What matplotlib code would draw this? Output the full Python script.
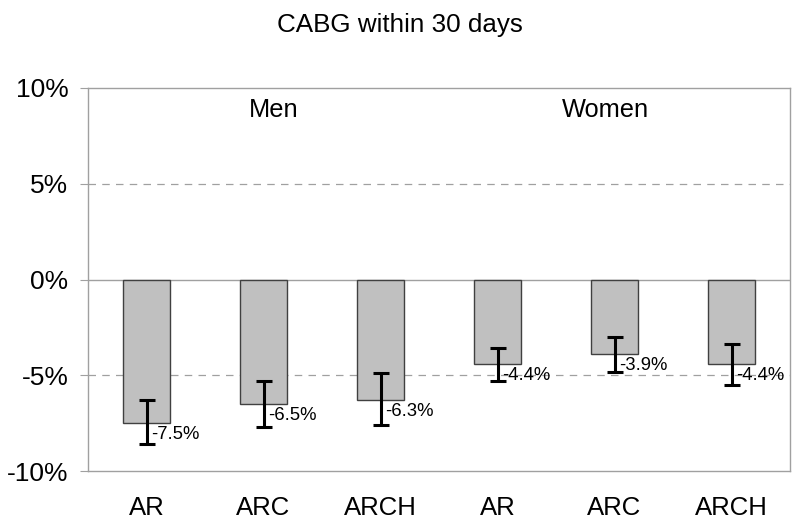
import numpy as np
import matplotlib.pyplot as plt
from matplotlib.ticker import FuncFormatter

plt.rcParams['font.family'] = ['Liberation Sans', 'DejaVu Sans']

# Werte (Prozentpunkte)
kategorien = ['AR', 'ARC', 'ARCH', 'AR', 'ARC', 'ARCH']
gruppen = ['Men', 'Women']
gruppen_pos = [1.09, 3.92]
werte = [-7.5, -6.5, -6.3, -4.4, -3.9, -4.4]
fehler_oben = [-6.3, -5.3, -4.9, -3.55, -3.0, -3.35]
fehler_unten = [-8.6, -7.7, -7.6, -5.3, -4.8, -5.5]

x = np.arange(len(kategorien))
werte = np.array(werte)
yerr = np.array([werte - np.array(fehler_unten), np.array(fehler_oben) - werte])

fig = plt.figure(figsize=(8, 5.3), dpi=100)
ax = fig.add_axes([0.11, 0.111, 0.8775, 0.723])

gitter = '#a0a0a0'
for y in (-5, 5):
    ax.axhline(y, color=gitter, lw=0.9, ls=(0, (6, 5)), zorder=0)
ax.axhline(0, color=gitter, lw=1.0, zorder=0)

ax.bar(x, werte, width=0.4, color='#c0c0c0', edgecolor='#404040', lw=1.0, zorder=2)
ax.errorbar(x, werte, yerr=yerr, fmt='none', ecolor='black', elinewidth=2.2,
            capsize=5.5, capthick=2.2, zorder=3)

for xi, w in zip(x, werte):
    ax.annotate(f'{w:.1f}%', (xi, w), xytext=(3, -2), textcoords='offset points',
                ha='left', va='top', fontsize=13.3)

for gx, name in zip(gruppen_pos, gruppen):
    ax.text(gx, 8.85, name, ha='center', va='center', fontsize=18.3)

ax.set_xlim(-0.5, 5.5)
ax.set_ylim(-10, 10)
ax.set_yticks([-10, -5, 0, 5, 10])
ax.yaxis.set_major_formatter(FuncFormatter(lambda v, p: f'{v:.0f}%'))
ax.set_xticks(x)
ax.set_xticklabels(kategorien, fontsize=18.5)
ax.tick_params(axis='x', length=0, pad=18)
ax.tick_params(axis='y', length=6, color=gitter, labelsize=19, pad=8)
for s in ax.spines.values():
    s.set_color(gitter)
    s.set_linewidth(1.0)

fig.text(0.5, 0.952, 'CABG within 30 days', ha='center', va='center', fontsize=18.7)

fig.savefig('out.png', dpi=100)
